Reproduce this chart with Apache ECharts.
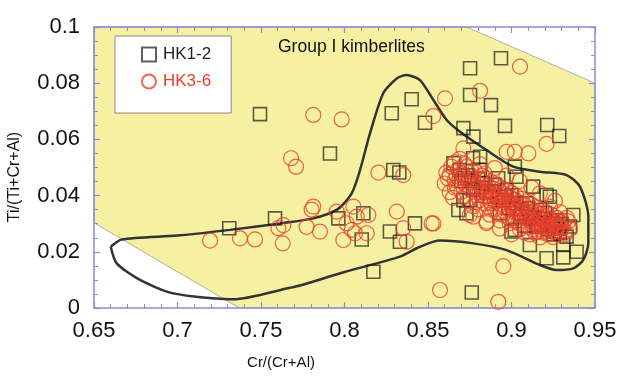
<!DOCTYPE html>
<html>
<head>
<meta charset="utf-8">
<script src="https://cdn.jsdelivr.net/npm/echarts@6/dist/echarts.min.js"></script>
<style>
html, body { margin: 0; padding: 0; background: #fff; }
#chart { width: 620px; height: 379px; }
</style>
</head>
<body>
<div id="chart"></div>
<script>
// x / y ticks
var xTicks = [0.65, 0.7, 0.75, 0.8, 0.85, 0.9, 0.95];
var yTicks = [0, 0.02, 0.04, 0.06, 0.08, 0.1];

// Group I kimberlite field (yellow)
var fieldPoly = [[0.65, 0.0303], [0.65, 0.1], [0.873, 0.1], [0.95, 0.080], [0.95, 0], [0.737, 0]];

// outline of the hand-drawn envelope
var envelope = [
    [0.660, 0.0218], [0.6666, 0.0244], [0.700, 0.0258], [0.7314, 0.0278], [0.7614, 0.0301],
    [0.7813, 0.0319], [0.7960, 0.0352], [0.8043, 0.0408], [0.8093, 0.0491], [0.8153, 0.0622],
    [0.8232, 0.0764], [0.8313, 0.0817], [0.8372, 0.0829], [0.8452, 0.0811], [0.8532, 0.0740],
    [0.8612, 0.0669], [0.8692, 0.0627], [0.885, 0.0562], [0.901, 0.0503], [0.917, 0.0485],
    [0.933, 0.0473], [0.941, 0.0432], [0.946, 0.0325], [0.946, 0.0230], [0.943, 0.0171],
    [0.937, 0.0141], [0.927, 0.0135], [0.917, 0.0153], [0.897, 0.0206], [0.877, 0.0230],
    [0.857, 0.0240], [0.8452, 0.0218], [0.8332, 0.0183], [0.800, 0.0128], [0.7734, 0.0080],
    [0.7674, 0.0072], [0.7334, 0.0031], [0.6975, 0.0052], [0.6775, 0.0100], [0.6636, 0.0159],
    [0.660, 0.0218]
];

// HK1-2 (squares)
var hk12 = [
    [0.7494, 0.069], [0.731, 0.0284], [0.7584, 0.0319], [0.8402, 0.0743], [0.8283, 0.0693],
    [0.8482, 0.0659], [0.7913, 0.0550], [0.8292, 0.0491], [0.8328, 0.0482], [0.7963, 0.0319],
    [0.8113, 0.0337], [0.8103, 0.0244], [0.8272, 0.0272], [0.8332, 0.0236], [0.8422, 0.0301],
    [0.8173, 0.0129], [0.8762, 0.0055], [0.8937, 0.0889], [0.8752, 0.0853], [0.8752, 0.0758],
    [0.8877, 0.0722], [0.8961, 0.0648], [0.9214, 0.0651], [0.9286, 0.0612], [0.8712, 0.0640],
    [0.8772, 0.0610], [0.8652, 0.0515], [0.8812, 0.0538], [0.902, 0.0503], [0.903, 0.0467],
    [0.913, 0.0432], [0.921, 0.0402], [0.8682, 0.0349], [0.873, 0.0337], [0.8712, 0.0384],
    [0.911, 0.0224], [0.921, 0.0177], [0.931, 0.0180], [0.939, 0.0200], [0.937, 0.0331],
    [0.935, 0.0290], [0.902, 0.0278], [0.931, 0.0224], [0.877, 0.0533], [0.892, 0.0462],
    [0.887, 0.0396], [0.883, 0.0444], [0.869, 0.0491], [0.893, 0.0337], [0.905, 0.0325],
    [0.917, 0.0349], [0.925, 0.0301], [0.929, 0.0266], [0.909, 0.0373], [0.897, 0.0420],
    [0.877, 0.0420], [0.881, 0.0491], [0.875, 0.0384], [0.915, 0.0289], [0.923, 0.0396],
    [0.933, 0.0254], [0.900, 0.0272], [0.885, 0.0411], [0.895, 0.0383], [0.906, 0.0352],
    [0.912, 0.0318], [0.918, 0.0302], [0.922, 0.0281], [0.927, 0.0312], [0.920, 0.0338],
    [0.890, 0.0438], [0.880, 0.0459], [0.874, 0.0472], [0.870, 0.0452], [0.900, 0.0401],
    [0.908, 0.0293], [0.925, 0.0262], [0.930, 0.0298], [0.888, 0.0415], [0.896, 0.0395],
    [0.903, 0.0372], [0.910, 0.0355], [0.914, 0.0322], [0.919, 0.0318], [0.924, 0.0292],
    [0.928, 0.0282], [0.882, 0.0428], [0.876, 0.0452], [0.872, 0.0462], [0.898, 0.0355],
    [0.906, 0.0335], [0.916, 0.0295], [0.926, 0.0272]
];

// HK3-6 (circles)
var hk36 = [
    [0.7195, 0.0240], [0.7374, 0.0248], [0.7464, 0.0244], [0.7604, 0.0284], [0.7634, 0.0295],
    [0.7630, 0.0230], [0.7773, 0.0289], [0.7813, 0.0361], [0.7803, 0.0350], [0.7853, 0.0272],
    [0.7813, 0.0687], [0.7983, 0.0671], [0.7680, 0.0533], [0.7710, 0.0503], [0.8203, 0.0482],
    [0.8352, 0.0473], [0.8602, 0.0746], [0.8532, 0.0683], [0.9051, 0.0859], [0.8812, 0.0773],
    [0.8313, 0.0343], [0.8522, 0.0301], [0.7953, 0.0343], [0.8053, 0.0361], [0.8143, 0.0331],
    [0.8073, 0.0325], [0.8013, 0.0301], [0.7993, 0.0242], [0.8043, 0.0278], [0.8133, 0.0266],
    [0.8063, 0.0266], [0.8352, 0.0284], [0.8372, 0.0236], [0.8532, 0.0301], [0.8572, 0.0064],
    [0.8921, 0.0022], [0.8951, 0.0149], [0.8772, 0.0325], [0.8852, 0.0307], [0.8672, 0.0432],
    [0.8971, 0.0556], [0.9101, 0.0550], [0.9210, 0.0584], [0.8712, 0.0568], [0.9020, 0.0556],
    [0.860, 0.0443], [0.861, 0.0482], [0.863, 0.0412], [0.862, 0.0461], [0.864, 0.0503],
    [0.866, 0.0428], [0.867, 0.0471], [0.866, 0.0518], [0.865, 0.0392], [0.869, 0.0452],
    [0.868, 0.0493], [0.870, 0.0413], [0.869, 0.0531], [0.872, 0.0441], [0.871, 0.0472],
    [0.873, 0.0502], [0.872, 0.0398], [0.875, 0.0423], [0.874, 0.0462], [0.876, 0.0488],
    [0.874, 0.0381], [0.878, 0.0432], [0.877, 0.0458], [0.879, 0.0401], [0.877, 0.0362],
    [0.881, 0.0412], [0.880, 0.0442], [0.882, 0.0471], [0.881, 0.0383], [0.880, 0.0351],
    [0.884, 0.0398], [0.883, 0.0428], [0.885, 0.0461], [0.884, 0.0372], [0.887, 0.0391],
    [0.886, 0.0419], [0.888, 0.0448], [0.886, 0.0361], [0.887, 0.0332], [0.890, 0.0381],
    [0.889, 0.0411], [0.891, 0.0439], [0.890, 0.0352], [0.893, 0.0371], [0.892, 0.0402],
    [0.894, 0.0428], [0.892, 0.0342], [0.893, 0.0311], [0.896, 0.0362], [0.895, 0.0391],
    [0.897, 0.0418], [0.895, 0.0331], [0.899, 0.0351], [0.898, 0.0382], [0.900, 0.0409],
    [0.898, 0.0322], [0.899, 0.0302], [0.902, 0.0342], [0.901, 0.0371], [0.903, 0.0398],
    [0.901, 0.0311], [0.905, 0.0331], [0.904, 0.0362], [0.906, 0.0388], [0.904, 0.0302],
    [0.905, 0.0281], [0.908, 0.0322], [0.907, 0.0351], [0.909, 0.0379], [0.907, 0.0292],
    [0.908, 0.0268], [0.911, 0.0311], [0.910, 0.0342], [0.912, 0.0368], [0.910, 0.0289],
    [0.911, 0.0262], [0.914, 0.0302], [0.913, 0.0331], [0.915, 0.0358], [0.913, 0.0281],
    [0.917, 0.0292], [0.916, 0.0322], [0.918, 0.0348], [0.916, 0.0271], [0.917, 0.0251],
    [0.920, 0.0288], [0.919, 0.0312], [0.921, 0.0338], [0.919, 0.0268], [0.923, 0.0281],
    [0.922, 0.0302], [0.924, 0.0331], [0.922, 0.0262], [0.923, 0.0361], [0.926, 0.0272],
    [0.925, 0.0298], [0.927, 0.0321], [0.925, 0.0252], [0.929, 0.0271], [0.928, 0.0292],
    [0.930, 0.0312], [0.929, 0.0341], [0.932, 0.0272], [0.931, 0.0298], [0.933, 0.0321],
    [0.935, 0.0281], [0.934, 0.0308], [0.881, 0.0512], [0.890, 0.0498], [0.897, 0.0471],
    [0.905, 0.0452], [0.912, 0.0428], [0.917, 0.0408], [0.926, 0.0381], [0.885, 0.0302],
    [0.893, 0.0283], [0.900, 0.0262], [0.875, 0.0331],
    [0.876, 0.0445], [0.879, 0.0425], [0.882, 0.0455], [0.884, 0.0415], [0.886, 0.0435],
    [0.888, 0.0405], [0.889, 0.0425], [0.891, 0.0395], [0.893, 0.0415], [0.894, 0.0385],
    [0.896, 0.0405], [0.897, 0.0375], [0.899, 0.0395], [0.900, 0.0365], [0.902, 0.0385],
    [0.903, 0.0355], [0.905, 0.0375], [0.906, 0.0345], [0.908, 0.0365], [0.909, 0.0335],
    [0.911, 0.0355], [0.912, 0.0325], [0.914, 0.0345], [0.915, 0.0315], [0.917, 0.0335],
    [0.918, 0.0305], [0.920, 0.0325], [0.921, 0.0295], [0.923, 0.0315], [0.924, 0.0285],
    [0.926, 0.0305], [0.927, 0.0285], [0.929, 0.0305], [0.930, 0.0285], [0.918, 0.0278],
    [0.914, 0.0268], [0.921, 0.0272], [0.927, 0.0262], [0.932, 0.0262], [0.906, 0.0312],
    [0.902, 0.0322], [0.896, 0.0342], [0.888, 0.0372], [0.879, 0.0378], [0.870, 0.0478],
    [0.866, 0.0455], [0.863, 0.0475], [0.872, 0.0512], [0.878, 0.0488], [0.884, 0.0478]
];

var axisColor = '#8a8ccf';
var fontFam = 'Liberation Sans, Arial, sans-serif';

var chart = echarts.init(document.getElementById('chart'));

function baseX(pos, showLabel) {
    return {
        type: 'value', position: pos, min: 0.65, max: 0.95, interval: 0.05,
        axisLine: { show: true, onZero: false, lineStyle: { color: axisColor, width: 1.5 } },
        axisTick: { show: true, inside: true, length: 6, lineStyle: { color: axisColor, width: 1.2 } },
        minorTick: { show: true, splitNumber: 5, length: 4, lineStyle: { color: axisColor, width: 1 } },
        splitLine: { show: false },
        axisLabel: {
            show: showLabel, margin: 12, fontSize: 22, color: '#111', fontFamily: fontFam,
            formatter: function (v) { return xTicks.indexOf(Math.round(v * 100) / 100) >= 0 ? String(Math.round(v * 100) / 100) : ''; }
        }
    };
}

function baseY(pos, showLabel) {
    return {
        type: 'value', position: pos, min: 0, max: 0.1, interval: 0.02,
        axisLine: { show: true, onZero: false, lineStyle: { color: axisColor, width: 1.5 } },
        axisTick: { show: true, inside: true, length: 6, lineStyle: { color: axisColor, width: 1.2 } },
        minorTick: { show: true, splitNumber: 4, length: 4, lineStyle: { color: axisColor, width: 1 } },
        splitLine: { show: false },
        axisLabel: {
            show: showLabel, margin: 14, fontSize: 22, color: '#111', fontFamily: fontFam,
            padding: [0, 0, 10, 0],
            formatter: function (v) { return yTicks.indexOf(Math.round(v * 100) / 100) >= 0 ? String(Math.round(v * 100) / 100) : ''; }
        }
    };
}

var option = {
    backgroundColor: '#fff',
    animation: false,
    grid: { left: 94, right: 25, top: 27, bottom: 71 },
    xAxis: [baseX('bottom', true), baseX('top', false)],
    yAxis: [baseY('left', true), baseY('right', false)],
    legend: {
        left: 115, top: 36, orient: 'vertical',
        backgroundColor: '#fff', borderColor: '#8a8a8a', borderWidth: 1,
        padding: [10, 20, 23, 26], itemGap: 10, itemWidth: 14, itemHeight: 14,
        textStyle: { fontSize: 17, fontFamily: fontFam, lineHeight: 14, padding: [0, 0, 0, 2] },
        data: [
            { name: 'HK1-2', textStyle: { color: '#222' } },
            { name: 'HK3-6', textStyle: { color: '#e8402a' } }
        ]
    },
    graphic: [
        { type: 'text', left: 278, top: 38, style: { text: 'Group I kimberlites', fontSize: 17.5, fontFamily: fontFam, fill: '#111' }, z: 10 },
        { type: 'text', x: 281, y: 363, style: { text: 'Cr/(Cr+Al)', fontSize: 15, fontFamily: fontFam, fill: '#111', align: 'center', verticalAlign: 'middle' } },
        { type: 'text', x: 15, y: 177, rotation: Math.PI / 2, style: { text: 'Ti/(Ti+Cr+Al)', fontSize: 16, fontFamily: fontFam, fill: '#111', align: 'center', verticalAlign: 'middle' } }
    ],
    series: [
        {
            type: 'custom', name: 'field', silent: true, z: 0,
            data: [0],
            renderItem: function (params, api) {
                return {
                    type: 'polygon',
                    shape: { points: fieldPoly.map(function (p) { return api.coord(p); }) },
                    style: { fill: '#f6f0a2', stroke: '#a0a090', lineWidth: 0.8 }
                };
            }
        },
        {
            type: 'line', name: 'envelope', data: envelope, showSymbol: false, smooth: 0.25,
            silent: true, z: 1,
            lineStyle: { color: '#333', width: 2.5 }
        },
        {
            type: 'scatter', name: 'HK1-2', data: hk12, symbol: 'rect', symbolSize: 13, z: 3,
            itemStyle: { color: 'rgba(0,0,0,0)', borderColor: 'rgba(20,20,20,0.85)', borderWidth: 1.6 }
        },
        {
            type: 'scatter', name: 'HK3-6', data: hk36, symbol: 'circle', symbolSize: 15, z: 4,
            itemStyle: { color: 'rgba(0,0,0,0)', borderColor: '#e8402a', borderWidth: 1.2 }
        }
    ]
};

chart.setOption(option);
</script>
</body>
</html>
